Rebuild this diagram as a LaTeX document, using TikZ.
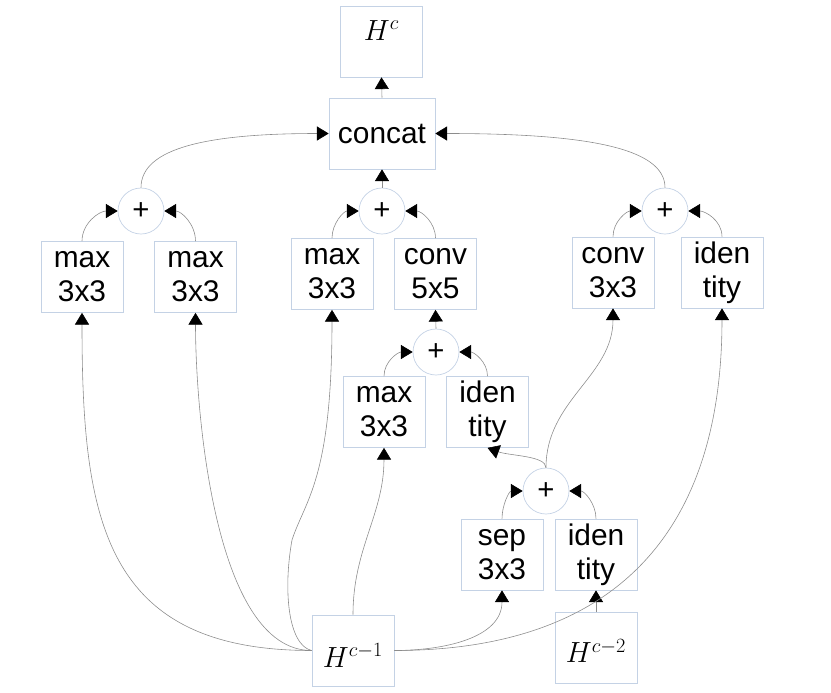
\documentclass[tikz,border=0pt]{standalone}
\usepackage[no-math]{fontspec}
\setmainfont{Liberation Sans}
\usepackage{xcolor}
\usetikzlibrary{arrows.meta}
\definecolor{boxline}{HTML}{C4D2E5}
\definecolor{wire}{HTML}{8C8C8C}

\begin{document}
\begin{tikzpicture}[x=0.03cm,y=-0.03cm,
  op/.style={draw=boxline,line width=0.6pt,minimum width=2.46cm,minimum height=2.13cm,inner sep=0pt,align=center,font=\fontsize{25.5}{29}\selectfont},
  add/.style={draw=boxline,line width=0.6pt,circle,minimum size=1.38cm,inner sep=0pt,font=\fontsize{25}{28}\selectfont},
  state/.style={op,font=\fontsize{25}{30}\selectfont},
  link/.style={draw=wire,line width=0.5pt,-{Triangle[color=black,length=10pt,width=12pt]}}]
\useasboundingbox (0,0) rectangle (831,693);
\node[state,text height=14pt,text depth=15.8pt] (hc) at (381.5,41.5) {$H^c$};
\node[op,minimum width=3.18cm] (concat) at (382,133.5) {concat};
\node[add] (addl) at (141,211) {+};
\node[add] (addm) at (382,211) {+};
\node[add] (addr) at (665,211) {+};
\node[op] (maxa) at (82,277) {max\\3x3};
\node[op] (maxb) at (195.5,277) {max\\3x3};
\node[op] (maxc) at (332,274) {max\\3x3};
\node[op] (convb) at (435.5,274) {conv\\5x5};
\node[op] (conva) at (613,272.5) {conv\\3x3};
\node[op] (ida) at (722,272.5) {iden\\tity};
\node[add] (addc) at (436,352) {+};
\node[op] (maxd) at (384,412) {max\\3x3};
\node[op] (idb) at (487.5,412) {iden\\tity};
\node[add] (addd) at (546,491) {+};
\node[op] (sep) at (502,554.5) {sep\\3x3};
\node[op] (idc) at (596,554.5) {iden\\tity};
\node[state,text height=29pt,text depth=0pt] (hprev) at (353,650.5) {$H^{c-1}$};
\node[state,text height=26.4pt,text depth=0pt] (hprevb) at (596,647.5) {$H^{c-2}$};
\draw[link] (concat.north) -- (hc.south);
\draw[link] (addm.north) -- (concat.south);
\draw[link] (addl.north) .. controls +(0,-40) and +(-120,0) .. (concat.west);
\draw[link] (addr.north) .. controls +(0,-40) and +(150,0) .. (concat.east);
\draw[link] (maxa.north) to[out=90,in=180] (addl.west);
\draw[link] (maxb.north) to[out=90,in=0] (addl.east);
\draw[link] (maxc.north) to[out=90,in=180] (addm.west);
\draw[link] (convb.north) to[out=90,in=0] (addm.east);
\draw[link] (conva.north) to[out=90,in=180] (addr.west);
\draw[link] (ida.north) to[out=90,in=0] (addr.east);
\draw[link] (addc.north) -- (convb.south);
\draw[link] (maxd.north) to[out=90,in=180] (addc.west);
\draw[link] (idb.north) to[out=90,in=0] (addc.east);
\draw[link] (addd.north) .. controls +(0,-12) and +(22,8) .. (idb.south);
\draw[link] (addd.north) to[out=90,in=-90] (conva.south);
\draw[link] (sep.north) to[out=90,in=180] (addd.west);
\draw[link] (idc.north) to[out=90,in=0] (addd.east);
\draw[link] (hprevb.north) -- (idc.south);
\draw[link] (hprev.west) to[out=180,in=-90,looseness=1.3] (maxa.south);
\draw[link] (hprev.west) to[out=180,in=-90,looseness=0.7] (maxb.south);
\draw[link] (hprev.west) .. controls (288,645) and (283,590) .. (292,540) .. controls (305,500) and (332,480) .. (maxc.south);
\draw[link] (hprev.north) to[out=90,in=-90] (maxd.south);
\draw[link] (hprev.east) to[out=0,in=-90] (sep.south);
\draw[link] (hprev.east) to[out=0,in=-90,looseness=1.2] (ida.south);
\end{tikzpicture}
\end{document}
